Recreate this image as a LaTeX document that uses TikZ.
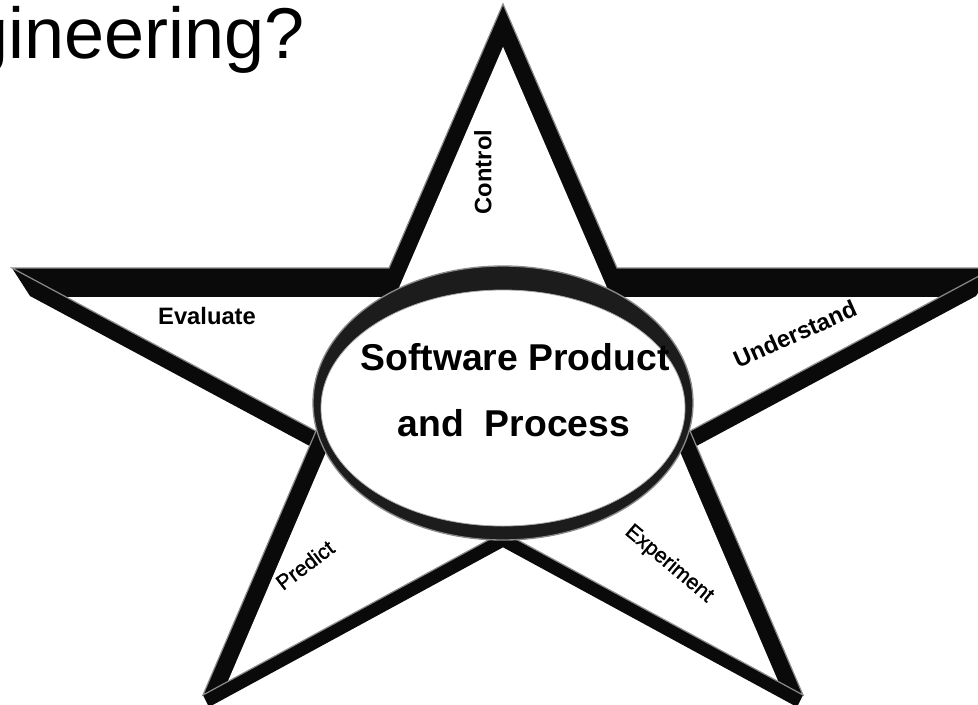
\documentclass[tikz,border=0pt]{standalone}
\usepackage{fontspec}
\setmainfont{Liberation Sans}
\usetikzlibrary{calc}
\definecolor{rimgray}{HTML}{1C1C1C}
\definecolor{hl}{HTML}{8A8A8A}
\begin{document}
\begin{tikzpicture}[x=0.75pt,y=-0.75pt,
  boldlbl/.style={font=\bfseries\fontsize{17.8}{19}\selectfont, inner sep=0pt},
  reglbl/.style={font=\fontsize{16}{18}\selectfont\addfontfeatures{FakeBold=1.2}, inner sep=0pt},
  centertext/.style={font=\bfseries\fontsize{28}{32}\selectfont, inner sep=0pt},
  hiline/.style={draw=hl, line width=0.9pt, line join=miter}]
\useasboundingbox (0,0) rectangle (978,704);
\clip (0,0) rectangle (978,704);
% star reference outline
\coordinate (T) at (503,4);
\coordinate (UR) at (617,268);
\coordinate (R) at (994,268);
\coordinate (IR) at (690,431);
\coordinate (BR) at (803,695);
\coordinate (IB) at (503,532);
\coordinate (BL) at (203,695);
\coordinate (IL) at (316,431);
\coordinate (L) at (12,268);
\coordinate (UL) at (389,268);
% shifted lines for the inner (white) face
\coordinate (Ta) at ($(T)+(18.5,0)$);
\coordinate (ULa) at ($(UL)+(18.5,0)$);
\coordinate (Tb) at ($(T)+(-18.5,0)$);
\coordinate (URb) at ($(UR)+(-18.5,0)$);
\coordinate (BLa) at ($(BL)+(19,0)$);
\coordinate (ILa) at ($(IL)+(19,0)$);
\coordinate (BRb) at ($(BR)+(-19,0)$);
\coordinate (IRb) at ($(IR)+(-19,0)$);
\coordinate (H1) at (0,297);
\coordinate (H2) at (1000,297);
% extruded silhouette lines
\coordinate (Lh) at (30,296);
\coordinate (ILh) at ($(Lh)+(IL)-(L)$);
\coordinate (Rh) at (976,296);
\coordinate (IRh) at ($(Rh)+(IR)-(R)$);
\coordinate (BLh) at (209,707);
\coordinate (IBl) at ($(BLh)+(IB)-(BL)$);
\coordinate (BRh) at (797,707);
\coordinate (IBr) at ($(BRh)+(IB)-(BR)$);
\coordinate (XB) at (intersection of BLh--IBl and BRh--IBr);
\coordinate (XL) at (intersection of Lh--ILh and BL--IL);
\coordinate (XR) at (intersection of Rh--IRh and BR--IR);
% white face vertices
\coordinate (WT) at (intersection of Ta--ULa and Tb--URb);
\coordinate (WUR) at (intersection of Tb--URb and H1--H2);
\coordinate (WR) at (intersection of R--IR and H1--H2);
\coordinate (WIR) at (intersection of R--IR and IRb--BRb);
\coordinate (WBR) at (intersection of IRb--BRb and BR--IB);
\coordinate (WBL) at (intersection of BLa--ILa and BL--IB);
\coordinate (WIL) at (intersection of L--IL and BLa--ILa);
\coordinate (WL) at (intersection of L--IL and H1--H2);
\coordinate (WUL) at (intersection of Ta--ULa and H1--H2);

% title (cut off at the left)
\node[anchor=base east, inner sep=0pt, font=\fontsize{54}{60}\selectfont] (title) at (305,58) {gineering?};

% black body of the star
\fill[black!96] (T) -- (UR) -- (R) -- (Rh) -- (XR) -- (BR) -- (BRh) -- (XB) -- (BLh) -- (BL) -- (XL) -- (Lh) -- (L) -- (UL) -- cycle;
% white top face
\fill[white] (WT) -- (WUR) -- (WR) -- (WIR) -- (WBR) -- (IB) -- (WBL) -- (WIL) -- (WL) -- (WUL) -- cycle;
% grey highlight edge
\draw[hiline] (T) -- (UR) -- (R) -- (IR) -- (BR) -- (IB) -- (BL) -- (IL) -- (L) -- (UL) -- cycle;

% central ring
\coordinate (EC) at (503,403);
\coordinate (ECi) at (503,408);
\fill[rimgray] (EC) ellipse [x radius=142.5pt, y radius=102.75pt];
\draw[hl, line width=1pt] (EC) ellipse [x radius=142.5pt, y radius=102.75pt];
\fill[white] (ECi) ellipse [x radius=136.5pt, y radius=88.5pt];
\draw[gray!70, line width=0.6pt] (ECi) ellipse [x radius=136.5pt, y radius=88.5pt];

\node[centertext] (sp) at (515,357) {Software Product};
\node[centertext] (ap) at (514,423) {and\ \ Process};

% labels
\node[boldlbl, rotate=90] (ctl) at (483,172) {Control};
\node[boldlbl] (eva) at (207,316) {Evaluate};
\node[boldlbl, rotate=24] (und) at (795,334) {Understand};
\node[reglbl, rotate=37] (pre) at (305,565) {Predict};
\node[reglbl, rotate=-40] (exp) at (669,564) {Experiment};
\end{tikzpicture}
\end{document}
